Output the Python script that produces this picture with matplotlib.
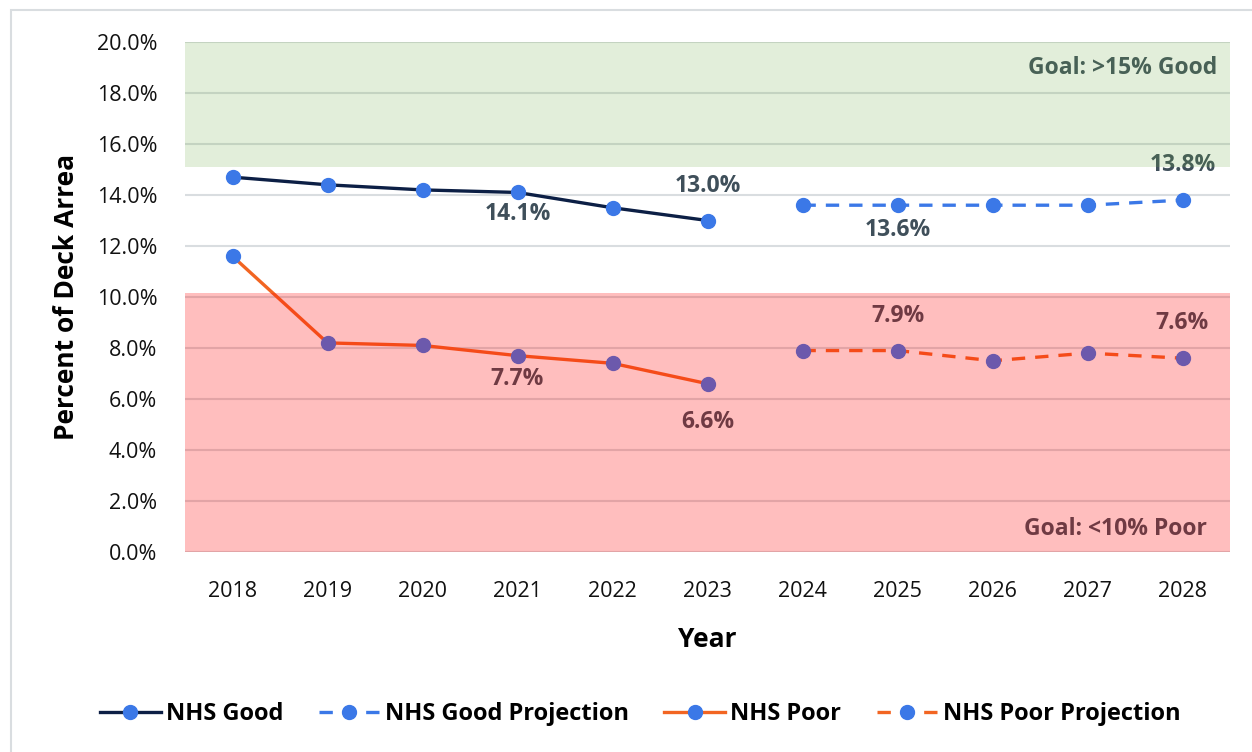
import matplotlib
matplotlib.use("Agg")
import matplotlib.pyplot as plt
from matplotlib.patches import Rectangle
from matplotlib.ticker import FuncFormatter, MultipleLocator

plt.rcParams['font.family'] = ['Open Sans', 'DejaVu Sans']

years = ["2018", "2019", "2020", "2021", "2022", "2023", "2024", "2025", "2026", "2027", "2028"]
good = [14.7, 14.4, 14.2, 14.1, 13.5, 13.0]
good_proj = [13.6, 13.6, 13.6, 13.6, 13.8]
poor = [11.6, 8.2, 8.1, 7.7, 7.4, 6.6]
poor_proj = [7.9, 7.9, 7.5, 7.8, 7.6]
good_goal = (15.1, 20.0)
poor_goal = (0.0, 10.15)

# labelled points: (year index, value, offset in px)
good_labels = [(3, 14.1, -22), (5, 13.0, 35)]
good_proj_labels = [(7, 13.6, -25), (10, 13.8, 35)]
poor_labels = [(3, 7.7, -23), (5, 6.6, -38)]
poor_proj_labels = [(7, 7.9, 35), (10, 7.6, 35)]

W, H = 1252, 752
fig = plt.figure(figsize=(W / 100, H / 100), dpi=100)
fig.patches.append(Rectangle((11 / W, -0.1), 1.2, 1 - 10 / H + 0.1, transform=fig.transFigure,
                             fill=False, edgecolor="#d9dde0", lw=1.5))

ax = fig.add_axes([185 / W, 1 - 552 / H, (1230 - 185) / W, (552 - 42) / H])

x_hist = list(range(len(good)))
x_proj = list(range(len(good), len(years)))

navy = "#0c1f45"
blue = "#3b78e7"
orange = "#f26522"
lbl = "#3f4f5a"

ax.plot(x_hist, good, color=navy, lw=2.4, marker="o", ms=10, mfc=blue, mec=blue,
        label="NHS Good", zorder=3)
ax.plot(x_proj, good_proj, color=blue, lw=2.4, ls=(0, (4, 3)), marker="o", ms=10, mfc=blue, mec=blue,
        label="NHS Good Projection", zorder=3)
ax.plot(x_hist, poor, color=orange, lw=2.4, marker="o", ms=10, mfc=blue, mec=blue,
        label="NHS Poor", zorder=3)
ax.plot(x_proj, poor_proj, color=orange, lw=2.4, ls=(0, (4, 3)), marker="o", ms=10, mfc=blue, mec=blue,
        label="NHS Poor Projection", zorder=3)

for i, v, off in good_labels + good_proj_labels + poor_labels + poor_proj_labels:
    ax.annotate(f"{v:.1f}%", (i, v), xytext=(0, off * 0.72), textcoords="offset points",
                ha="center", va="center", fontsize=16.5, fontweight="bold", color=lbl, zorder=4)

# goal bands drawn above data with transparency
ax.axhspan(good_goal[0], good_goal[1], color=(112 / 255, 173 / 255, 71 / 255), alpha=0.2, lw=0, zorder=5)
ax.axhspan(poor_goal[0], poor_goal[1], color=(1, 0, 0), alpha=0.255, lw=0, zorder=5)

ax.text(0.988, 18.97, "Goal: >15% Good", ha="right", va="center", fontsize=16.5, fontweight="bold",
        color=lbl, transform=ax.get_yaxis_transform(), zorder=4)
ax.text(0.978, 0.9, "Goal: <10% Poor", ha="right", va="center", fontsize=16.5, fontweight="bold",
        color=lbl, transform=ax.get_yaxis_transform(), zorder=4)

ax.set_xlim(-0.5, len(years) - 0.5)
ax.set_ylim(0, 20)
ax.set_xticks(range(len(years)))
ax.set_xticklabels(years)
ax.yaxis.set_major_locator(MultipleLocator(2))
ax.yaxis.set_major_formatter(FuncFormatter(lambda v, p: f"{v:.1f}%"))
ax.tick_params(length=0, labelsize=15.5, colors="#111111", pad=0)
ax.tick_params(axis="x", pad=21)
ax.tick_params(axis="y", pad=20)
ax.grid(axis="y", color="#d9dde0", lw=1.5, zorder=0)
ax.set_axisbelow(True)
for s in ax.spines.values():
    s.set_visible(False)

ax.set_xlabel("Year", fontsize=19, fontweight="bold", labelpad=17)
ax.set_ylabel("Percent of Deck Arrea", fontsize=19, fontweight="bold", labelpad=12)

fig.legend(loc="center", bbox_to_anchor=(640 / W, 1 - 714 / H), ncol=4, frameon=False,
           prop={"weight": "bold", "size": 17}, handlelength=2.6, columnspacing=1.5,
           handletextpad=0.2)

fig.savefig("out.png", dpi=100)
